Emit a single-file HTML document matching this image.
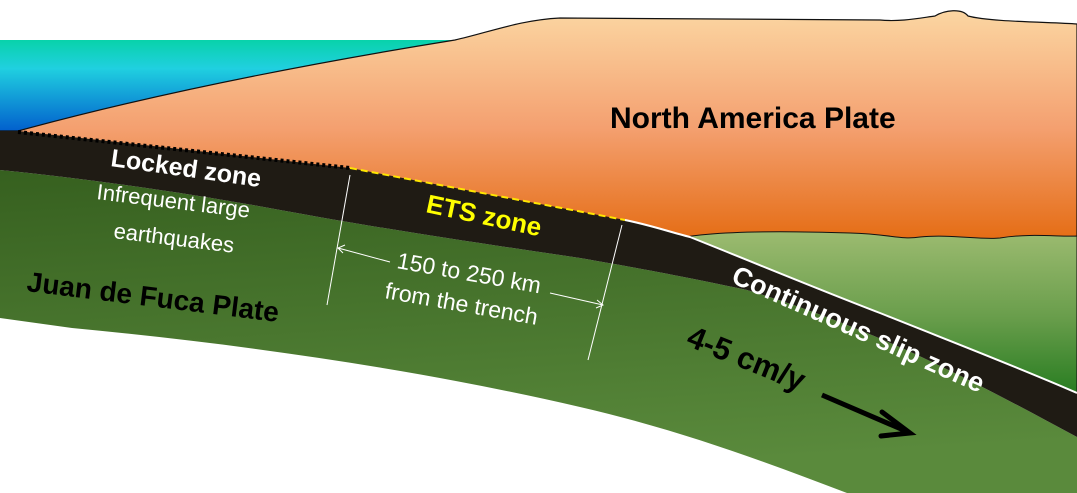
<!DOCTYPE html>
<html><head><style>body{margin:0;background:#fff}svg{display:block}</style></head><body>
<svg width="1077" height="493" viewBox="0 0 1077 493" xmlns="http://www.w3.org/2000/svg" font-family="'Liberation Sans', sans-serif">
<defs>
<linearGradient id="sea" x1="0" y1="0" x2="0" y2="1"><stop offset="0" stop-color="#08d2aa"/><stop offset="0.3" stop-color="#20d0e0"/><stop offset="1" stop-color="#0058cc"/></linearGradient>
<linearGradient id="na" x1="0" y1="0" x2="0" y2="1"><stop offset="0" stop-color="#fbd6a2"/><stop offset="0.5" stop-color="#f4a070"/><stop offset="1" stop-color="#e46a10"/></linearGradient>
<linearGradient id="mw" x1="0" y1="0" x2="0" y2="1"><stop offset="0" stop-color="#9cbb70"/><stop offset="0.5" stop-color="#6a9e4c"/><stop offset="1" stop-color="#237a1e"/></linearGradient>
<linearGradient id="jdf" x1="0" y1="0" x2="0.2" y2="1"><stop offset="0" stop-color="#36601f"/><stop offset="1" stop-color="#5a8a3c"/></linearGradient>
</defs>
<rect x="0" y="40" width="470" height="95" fill="url(#sea)"/>
<path d="M0,131 L18,131 C150,95 300,65 455,40 C490,32 520,20 560,18 L880,20 C900,22 920,18 935,16 C945,10 962,8 968,16 C990,22 1050,22 1077,24 L1077,245 L690,245 Z" fill="url(#na)" stroke="#111" stroke-width="1.2"/>
<path d="M670,240 C700,232 760,230 850,233 C890,234 900,240 920,237 C950,234 980,240 1000,238 C1030,233 1060,237 1077,236 L1077,400 Z" fill="url(#mw)" stroke="#111" stroke-width="1"/>
<path d="M0,170 C100,180 200,195 280,210 C400,232 500,246 580,258 C650,270 700,280 747,290 C880,330 980,385 1077,437 L1077,493 L847,493 C760,460 680,430 580,407 C420,370 250,345 72,328 L0,318 Z" fill="url(#jdf)"/>
<path d="M0,131 L18,131 L350,168 L625,220 C650,225 670,232 690,237 C760,265 820,290 880,313 C960,345 1020,368 1077,393 L1077,437 C980,385 880,330 747,290 C700,280 650,270 580,258 C500,246 400,232 280,210 C200,195 100,180 0,170 Z" fill="#1f1b14"/>
<path d="M18,132 L350,168" stroke="#000" stroke-width="4" stroke-dasharray="3,3"/>
<path d="M350,168 L625,220" stroke="#ffe600" stroke-width="2" stroke-dasharray="7,4"/>
<path d="M625,220 C650,225 670,232 690,237 C760,265 820,290 880,313 C960,345 1020,368 1077,393" stroke="#fff" stroke-width="2" fill="none"/>
<text x="610" y="128" font-size="30" font-weight="bold" fill="#000">North America Plate</text>
<text transform="translate(110,166) rotate(8)" font-size="25" font-weight="bold" fill="#fff">Locked zone</text>
<text transform="translate(96,199) rotate(7)" font-size="22" fill="#fff">Infrequent large</text>
<text transform="translate(113,238) rotate(7)" font-size="22" fill="#fff">earthquakes</text>
<text transform="translate(26,291) rotate(7)" font-size="28" font-weight="bold" fill="#000">Juan de Fuca Plate</text>
<text transform="translate(425,212) rotate(12)" font-size="26" font-weight="bold" fill="#ffff00">ETS zone</text>
<g stroke="#fff" stroke-width="1" fill="none">
<path d="M350,175 L327,305"/><path d="M622,225 L588,360"/>
<path d="M338,248 L390,262"/><path d="M345,245 L338,248 L343,253"/>
<path d="M550,293 L603,305"/><path d="M597,300 L603,305 L596,308"/>
</g>
<text transform="translate(396,268) rotate(10)" font-size="23" fill="#fff">150 to 250 km</text>
<text transform="translate(384,298) rotate(10)" font-size="23" fill="#fff">from the trench</text>
<text transform="translate(730,282) rotate(24)" font-size="27" font-weight="bold" fill="#fff">Continuous  slip zone</text>
<text transform="translate(685,345) rotate(22)" font-size="31" font-weight="bold" fill="#000">4-5 cm/y</text>
<path d="M822,395 L908,432" stroke="#000" stroke-width="5"/>
<path d="M882,412 L910,433 L881,436" stroke="#000" stroke-width="5" fill="none" stroke-linecap="round"/>
</svg>
</body></html>
